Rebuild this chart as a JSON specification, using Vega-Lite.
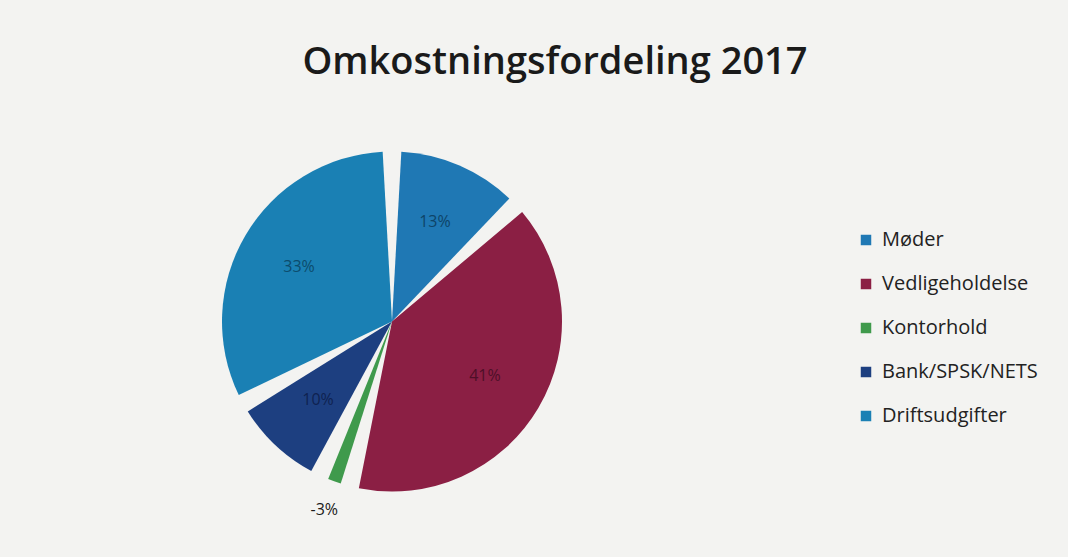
{
  "$schema": "https://vega.github.io/schema/vega-lite/v6.json",
  "autosize": {"type": "fit", "contains": "padding"},
  "width": 1068,
  "height": 557,
  "padding": {"left": 0, "right": 284, "top": 44, "bottom": 20},
  "background": "#f3f3f1",
  "title": {
    "text": "Omkostningsfordeling 2017",
    "font": "Open Sans",
    "fontSize": 38,
    "fontWeight": 600,
    "color": "#1a1a1a",
    "anchor": "middle",
    "dx": 163,
    "offset": 24
  },
  "data": {
    "values": [
      {"kategori": "Møder", "andel": 13, "label": "13%", "rk": 1, "plads": "inde"},
      {"kategori": "Vedligeholdelse", "andel": 41, "label": "41%", "rk": 2, "plads": "inde"},
      {"kategori": "Kontorhold", "andel": 3, "label": "-3%", "rk": 3, "plads": "ude"},
      {"kategori": "Bank/SPSK/NETS", "andel": 10, "label": "10%", "rk": 4, "plads": "inde"},
      {"kategori": "Driftsudgifter", "andel": 33, "label": "33%", "rk": 5, "plads": "inde"}
    ]
  },
  "encoding": {
    "theta": {"field": "andel", "type": "quantitative", "stack": true},
    "order": {"field": "rk", "type": "quantitative"}
  },
  "layer": [
    {
      "mark": {"type": "arc", "outerRadius": 170, "padAngle": 0.11},
      "encoding": {
        "color": {
          "field": "kategori",
          "type": "nominal",
          "sort": ["Møder", "Vedligeholdelse", "Kontorhold", "Bank/SPSK/NETS", "Driftsudgifter"],
          "scale": {
            "domain": ["Møder", "Vedligeholdelse", "Kontorhold", "Bank/SPSK/NETS", "Driftsudgifter"],
            "range": ["#1f78b4", "#8b1f44", "#3f9a4c", "#1d3f80", "#1a80b4"]
          },
          "legend": {
            "title": null,
            "orient": "none",
            "legendX": 856,
            "legendY": 124,
            "symbolType": "square",
            "symbolSize": 110,
            "symbolStrokeWidth": 0,
            "labelFont": "Open Sans",
            "labelFontSize": 20,
            "labelColor": "#222222",
            "rowPadding": 24,
            "labelOffset": 6
          }
        }
      }
    },
    {
      "mark": {"type": "text", "radius": 108, "font": "Open Sans", "fontSize": 16},
      "encoding": {
        "text": {"condition": {"test": "datum.plads == 'inde'", "field": "label"}, "value": ""},
        "color": {
          "field": "kategori",
          "type": "nominal",
          "scale": {
            "domain": ["Møder", "Vedligeholdelse", "Kontorhold", "Bank/SPSK/NETS", "Driftsudgifter"],
            "range": ["#0e4468", "#4e0f28", "#2a6a33", "#0f2250", "#0c4c6c"]
          },
          "legend": null
        }
      }
    },
    {
      "mark": {"type": "text", "radius": 200, "font": "Open Sans", "fontSize": 16, "color": "#1a1a1a"},
      "encoding": {
        "text": {"condition": {"test": "datum.plads == 'ude'", "field": "label"}, "value": ""}
      }
    }
  ],
  "resolve": {"scale": {"color": "independent"}},
  "config": {"view": {"stroke": null}}
}
